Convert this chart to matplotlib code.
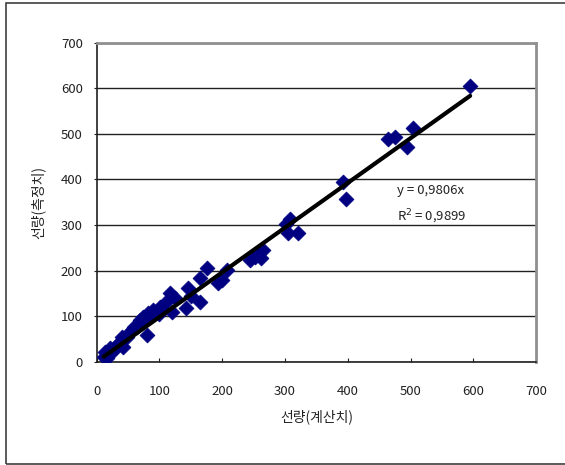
import numpy as np
import matplotlib.pyplot as plt
from matplotlib.patches import Rectangle

plt.rcParams['font.family'] = ['Noto Sans CJK KR', 'DejaVu Sans']

# 계산치 vs 측정치 (선량)
calc = [11, 16, 13, 21, 21, 28, 32, 35, 42, 40, 48, 50, 56, 60, 64, 69, 74, 75,
        80, 82, 85, 90, 95, 100, 101, 105, 111, 117, 120, 125, 143, 146, 150,
        165, 165, 175, 194, 199, 207, 244, 252, 258, 262, 265, 302, 305, 308,
        320, 393, 397, 464, 475, 494, 504, 595]
meas = [11, 7, 22, 18, 29, 25, 37, 40, 33, 55, 55, 60, 70, 75, 77, 91, 99, 90,
        58, 106, 100, 113, 110, 105, 121, 115, 132, 150, 110, 140, 117, 161, 145,
        132, 183, 205, 172, 179, 201, 223, 230, 238, 228, 245, 303, 282, 314,
        282, 395, 356, 488, 493, 470, 512, 605]
slope = 0.9806
r2 = 0.9899

ticks = [0, 100, 200, 300, 400, 500, 600, 700]

fig = plt.figure(figsize=(5.65, 4.65), dpi=100)
ax = fig.add_axes([0.1712, 0.2222, 0.7775, 0.686])

# outer chart frame
fig.patches.append(Rectangle((0.0106, 0.002), 1.0, 0.9915, transform=fig.transFigure,
                             fill=False, edgecolor='#404040', linewidth=1.2))

ax.scatter(calc, meas, marker='D', s=58, color='#000080', edgecolors='#000080',
           linewidths=0.5, zorder=3)

xs = np.array([min(calc), max(calc)])
ax.plot(xs, slope * xs, color='black', linewidth=3.0, zorder=4, solid_capstyle='round')

ax.set_xlim(0, 700)
ax.set_ylim(0, 700)
ax.set_xticks(ticks)
ax.set_yticks(ticks)
ax.yaxis.grid(True, color='#202020', linewidth=1.0)
ax.set_axisbelow(True)

ax.tick_params(axis='x', direction='in', length=3, pad=17, labelsize=9.5,
               color='#202020', labelcolor='#222222')
ax.tick_params(axis='y', direction='out', length=2, pad=8, labelsize=9.5,
               color='#202020', labelcolor='#222222')

for side in ['left', 'bottom']:
    ax.spines[side].set_color('#202020')
    ax.spines[side].set_linewidth(1.2)
for side in ['top', 'right']:
    ax.spines[side].set_color('#909090')
    ax.spines[side].set_linewidth(2.0)

ax.set_xlabel('선량(계산치)', fontsize=10, labelpad=8, color='#222222')
ax.set_ylabel('선량(측정치)', fontsize=10, labelpad=11, color='#222222')

ax.text(478, 376, f'y = {slope:.4f}x'.replace('.', ','), fontsize=9.5, va='center',
        ha='left', color='#222222')
ax.text(478, 317, f'R$^2$ = {r2:.4f}'.replace('.', ','), fontsize=9.5, va='center',
        ha='left', color='#222222')

fig.savefig('out.png', dpi=100)
